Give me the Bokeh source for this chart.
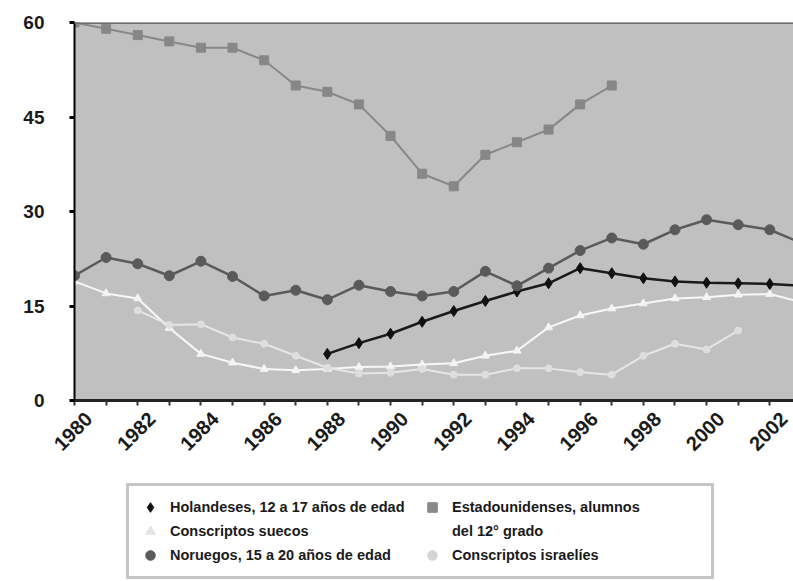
import math
from bokeh.plotting import figure
from bokeh.layouts import column
from bokeh.models import Range1d, FixedTicker, Span, Legend, LegendItem, LinearAxis
from bokeh.embed import file_html
from bokeh.resources import INLINE

# ---- data ----
years_us = list(range(1980, 1998))
estadounidenses = [60, 59, 58, 57, 56, 56, 54, 50, 49, 47, 42, 36, 34, 39, 41, 43, 47, 50]

years_no = list(range(1980, 2004))
noruegos = [19.8, 22.7, 21.7, 19.8, 22.1, 19.7, 16.6, 17.5, 16.0, 18.3,
            17.3, 16.6, 17.3, 20.5, 18.2, 21.0, 23.8, 25.8, 24.8, 27.1,
            28.7, 27.9, 27.1, 25.0]

years_ho = list(range(1988, 2004))
holandeses = [7.4, 9.1, 10.6, 12.5, 14.2, 15.8, 17.3, 18.6, 21.0, 20.2,
              19.4, 18.9, 18.7, 18.6, 18.5, 18.2]

years_su = list(range(1980, 2004))
suecos = [18.9, 17.0, 16.2, 11.5, 7.4, 6.0, 5.0, 4.8, 5.0, 5.3,
          5.4, 5.7, 5.9, 7.1, 7.9, 11.6, 13.5, 14.6, 15.4, 16.2,
          16.4, 16.8, 16.9, 15.6]

years_is = list(range(1982, 2002))
israelies = [14.3, 12.0, 12.1, 10.0, 9.0, 7.1, 5.2, 4.3, 4.4, 5.0,
             4.1, 4.1, 5.1, 5.1, 4.5, 4.1, 7.1, 9.0, 8.1, 11.1]

y_ticks = [0, 15, 30, 45, 60]
grid_ticks = [15, 30, 45]
label_years = list(range(1980, 2003, 2))
all_years = list(range(1980, 2004))

label_names = ["Holandeses, 12 a 17 años de edad",
               "Conscriptos suecos",
               "Noruegos, 15 a 20 años de edad",
               "Estadounidenses, alumnos",
               "del 12° grado",
               "Conscriptos israelíes"]

FONT = "Liberation Sans"
LABEL_SHIFT = 0.45  # slanted labels sit centred under their tick
label_pos = [y + LABEL_SHIFT for y in label_years]
label_overrides = {pos: str(y) for pos, y in zip(label_pos, label_years)}

# series styles
C_US, C_NO, C_HO, C_SU, C_IS = "#878787", "#5a5a5a", "#111111", "#f4f4f4", "#dedede"

p = figure(width=793, height=480,
           x_range=Range1d(1980, 2002.75), y_range=Range1d(0, 60),
           output_backend="svg", toolbar_location=None,
           min_border_left=74, min_border_right=0, min_border_top=22,
           min_border_bottom=80, x_axis_type=None, y_axis_type=None)
p.background_fill_color = "#c0c0c0"
p.border_fill_color = "white"
p.outline_line_color = None

# y axis
yax = LinearAxis(ticker=FixedTicker(ticks=y_ticks))
yax.axis_line_color = "black"
yax.axis_line_width = 2
yax.major_tick_line_color = "black"
yax.major_tick_line_width = 3
yax.major_tick_out = 5
yax.major_tick_in = 0
yax.minor_tick_line_color = None
yax.major_label_text_font = FONT
yax.major_label_text_font_style = "bold"
yax.major_label_text_font_size = "19px"
yax.major_label_text_color = "#1a1a1a"
yax.major_label_standoff = 25
p.add_layout(yax, "left")

# x axis: ticks every year, slanted labels every two years
xax = LinearAxis(ticker=FixedTicker(ticks=label_pos, minor_ticks=all_years))
xax.axis_line_color = "#222222"
xax.axis_line_width = 3
xax.major_tick_line_color = None
xax.major_tick_out = 5
xax.major_tick_in = 0
xax.minor_tick_line_color = "#333333"
xax.minor_tick_line_width = 2
xax.minor_tick_out = 5
xax.minor_tick_in = 0
xax.major_label_overrides = label_overrides
xax.major_label_orientation = math.pi / 4
xax.major_label_text_font = FONT
xax.major_label_text_font_style = "bold"
xax.major_label_text_font_size = "20px"
xax.major_label_text_color = "#1a1a1a"
xax.major_label_standoff = 10
p.add_layout(xax, "below")

# grid
p.ygrid.ticker = FixedTicker(ticks=grid_ticks)
p.ygrid.grid_line_color = "black"
p.ygrid.grid_line_width = 3
p.add_layout(Span(location=60, dimension="width", line_color="#6e6e6e", line_width=3))

# series
p.line(years_us, estadounidenses, line_color=C_US, line_width=2)
p.scatter(years_us, estadounidenses, marker="square", size=9, fill_color=C_US, line_color=C_US)

p.line(years_su, suecos, line_color="#f8f8f8", line_width=2)
p.scatter(years_su, suecos, marker="triangle", size=8, fill_color=C_SU, line_color=C_SU)

p.line(years_is, israelies, line_color="#e6e6e6", line_width=2)
p.scatter(years_is, israelies, marker="circle", size=7, fill_color=C_IS, line_color=C_IS)

p.line(years_ho, holandeses, line_color="#1a1a1a", line_width=2.5)
p.scatter(years_ho, holandeses, marker="diamond", size=11, fill_color=C_HO, line_color=C_HO)

p.line(years_no, noruegos, line_color=C_NO, line_width=2.5)
p.scatter(years_no, noruegos, marker="circle", size=10, fill_color=C_NO, line_color=C_NO)

# ---- legend panel (a second figure holding only the legend) ----
lg = figure(width=793, height=101, x_range=Range1d(0, 1), y_range=Range1d(0, 1),
            output_backend="svg", toolbar_location=None,
            min_border_left=0, min_border_right=0, min_border_top=0, min_border_bottom=0,
            x_axis_type=None, y_axis_type=None)
lg.outline_line_color = None
lg.xgrid.visible = False
lg.ygrid.visible = False
lg.background_fill_color = "white"
lg.border_fill_color = "white"

NA = [float("nan")]  # legend swatches only: nothing drawn in the panel itself
k_ho = lg.scatter(x=NA, y=NA, marker="diamond", fill_color=C_HO, line_color=C_HO)
k_su = lg.scatter(x=NA, y=NA, marker="triangle", fill_color="#e4e4e4", line_color="#e4e4e4")
k_no = lg.scatter(x=NA, y=NA, marker="circle", fill_color=C_NO, line_color=C_NO)
k_us = lg.scatter(x=NA, y=NA, marker="square", fill_color="#8a8a8a", line_color="#8a8a8a")
k_bl = lg.scatter(x=NA, y=NA, marker="square", alpha=0)
k_is = lg.scatter(x=NA, y=NA, marker="circle", fill_color="#d4d4d4", line_color="#d4d4d4")

legend = Legend(items=[
    LegendItem(label=label_names[0], renderers=[k_ho]),
    LegendItem(label=label_names[1], renderers=[k_su]),
    LegendItem(label=label_names[2], renderers=[k_no]),
    LegendItem(label=label_names[3], renderers=[k_us]),
    LegendItem(label=label_names[4], renderers=[k_bl]),
    LegendItem(label=label_names[5], renderers=[k_is]),
], ncols=2, location=(52, 2))
legend.label_text_font = FONT
legend.label_text_font_style = "bold"
legend.label_text_font_size = "14.5px"
legend.label_text_color = "#1a1a1a"
legend.label_height = 18
legend.label_width = 250
legend.glyph_height = 24
legend.glyph_width = 24
legend.label_standoff = 8
legend.spacing = 0
legend.padding = 9
legend.margin = 0
legend.border_line_color = "#8c8c8c"
legend.border_line_width = 3
legend.background_fill_color = "white"
legend.background_fill_alpha = 1
lg.add_layout(legend, "center")

layout = column(p, lg, spacing=0)
open("out.html", "w").write(file_html(layout, INLINE))
